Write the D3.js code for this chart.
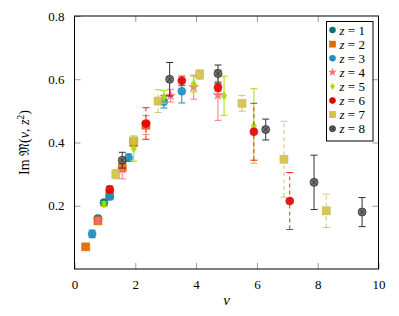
<!DOCTYPE html>
<html>
<head>
<meta charset="utf-8">
<script src="https://cdn.jsdelivr.net/npm/d3@7"></script>
<style>
  body { margin: 0; background: #fff; }
</style>
</head>
<body>
<svg id="chart" width="399" height="316"></svg>
<script>
// nu, value, error for each z
const z1Nu = [0.77, 0.97];
const z1Im = [0.160, 0.210];
const z1Err = [0.007, 0.007];

const z2Nu = [0.37, 0.77, 1.16, 1.57, 1.95, 2.35];
const z2Im = [0.070, 0.152, 0.236, 0.321, 0.400, 0.455];
const z2Err = [0.005, 0.006, 0.008, 0.010, 0.010, 0.010];

const z3Nu = [0.58, 1.16, 1.78, 2.94, 3.53];
const z3Im = [0.111, 0.229, 0.352, 0.529, 0.562];
const z3Err = [0.012, 0.010, 0.012, 0.020, 0.037];

const z4Nu = [0.77, 1.57, 2.35, 3.16, 3.92, 4.72];
const z4Im = [0.155, 0.315, 0.455, 0.548, 0.575, 0.550];
const z4Err = [0.008, 0.030, 0.030, 0.020, 0.038, 0.080];

const z5Nu = [0.97, 1.95, 2.94, 3.92, 4.92, 5.90];
const z5Im = [0.205, 0.381, 0.544, 0.585, 0.548, 0.452];
const z5Err = [0.008, 0.040, 0.020, 0.025, 0.062, 0.118];

const z6Nu = [1.16, 2.35, 3.53, 4.72, 5.90, 7.08];
const z6Im = [0.252, 0.460, 0.595, 0.574, 0.434, 0.215];
const z6Err = [0.010, 0.050, 0.015, 0.012, 0.090, 0.090];

const z7Nu = [1.36, 1.95, 2.75, 4.12, 5.51, 6.89, 8.28];
const z7Im = [0.300, 0.405, 0.531, 0.615, 0.524, 0.347, 0.184];
const z7Err = [0.015, 0.010, 0.036, 0.015, 0.025, 0.120, 0.053];

const z8Nu = [1.57, 3.13, 4.72, 6.29, 7.88, 9.46];
const z8Im = [0.344, 0.600, 0.618, 0.441, 0.274, 0.180];
const z8Err = [0.025, 0.053, 0.027, 0.033, 0.086, 0.046];

const xTicks = [0, 2, 4, 6, 8, 10];
const yTicks = [0.2, 0.4, 0.6, 0.8];

const series = [
  {nu: z1Nu, im: z1Im, err: z1Err, shape: "circle", fill: "#00747a", stroke: "#00666b", errColor: "#00747a", dash: null},
  {nu: z2Nu, im: z2Im, err: z2Err, shape: "square", fill: "#e06c00", stroke: "#d06000", errColor: "#e06c00", dash: null},
  {nu: z3Nu, im: z3Im, err: z3Err, shape: "circle", fill: "#1a8fc0", stroke: "#1780b0", errColor: "#1a8fc0", dash: null},
  {nu: z4Nu, im: z4Im, err: z4Err, shape: "star", fill: "#ff6e6e", stroke: "#ff5a5a", errColor: "#ff7b7b", dash: null},
  {nu: z5Nu, im: z5Im, err: z5Err, shape: "diamond", fill: "#a6e000", stroke: "#9ad000", errColor: "#a6e000", dash: null},
  {nu: z6Nu, im: z6Im, err: z6Err, shape: "circle", fill: "#e60000", stroke: "#d00000", errColor: "#ff2020", dash: "4,3"},
  {nu: z7Nu, im: z7Im, err: z7Err, shape: "square", fill: "#d4c244", stroke: "#c2b23e", errColor: "#d2c27a", dash: "4,3"},
  {nu: z8Nu, im: z8Im, err: z8Err, shape: "otimes", fill: "#666", stroke: "#222", errColor: "#333", dash: null}
];

const serif = "'Liberation Serif', 'Times New Roman', serif";
const svg = d3.select("#chart").style("font-family", serif);
const mLeft = 74.5, mRight = 378.5, mTop = 16, mBottom = 269;

const x = d3.scaleLinear().domain([0, 10]).range([mLeft, mRight]);
const y = d3.scaleLinear().domain([0, 0.8]).range([mBottom, mTop]);

// ticks inside on all four sides
const tickLen = 6;
svg.append("g")
  .attr("transform", "translate(0," + mBottom + ")")
  .call(d3.axisBottom(x).tickValues(xTicks).tickSizeInner(-tickLen).tickSizeOuter(0).tickPadding(5 + tickLen))
  .attr("font-family", serif)
  .call(g => g.select(".domain").remove())
  .call(g => g.selectAll("line").attr("stroke", "#9a9a9a"))
  .call(g => g.selectAll("text").attr("font-size", 13).attr("fill", "#000"));
svg.append("g")
  .attr("transform", "translate(0," + mTop + ")")
  .call(d3.axisTop(x).tickValues(xTicks.slice(1, -1)).tickSizeInner(-tickLen).tickSizeOuter(0).tickFormat(""))
  .call(g => g.select(".domain").remove())
  .call(g => g.selectAll("line").attr("stroke", "#9a9a9a"));
svg.append("g")
  .attr("transform", "translate(" + mLeft + ",0)")
  .call(d3.axisLeft(y).tickValues(yTicks).tickSizeInner(-tickLen).tickSizeOuter(0).tickPadding(4 + tickLen).tickFormat(d3.format(".1f")))
  .attr("font-family", serif)
  .call(g => g.select(".domain").remove())
  .call(g => g.selectAll("line").attr("stroke", "#9a9a9a"))
  .call(g => g.selectAll("text").attr("font-size", 13).attr("fill", "#000"));
svg.append("g")
  .attr("transform", "translate(" + mRight + ",0)")
  .call(d3.axisRight(y).tickValues(yTicks.slice(0, -1)).tickSizeInner(-tickLen).tickSizeOuter(0).tickFormat(""))
  .call(g => g.select(".domain").remove())
  .call(g => g.selectAll("line").attr("stroke", "#9a9a9a"));

svg.append("rect")
  .attr("x", mLeft).attr("y", mTop)
  .attr("width", mRight - mLeft).attr("height", mBottom - mTop)
  .attr("fill", "none").attr("stroke", "#000").attr("stroke-width", 1);

// axis labels
svg.append("text")
  .attr("x", (mLeft + mRight) / 2).attr("y", 305)
  .attr("text-anchor", "middle").attr("font-size", 15).attr("font-style", "italic")
  .text("ν");
const yl = svg.append("text")
  .attr("transform", "translate(29," + (mTop + mBottom) / 2 + ") rotate(-90)")
  .attr("text-anchor", "middle").attr("font-size", 14);
yl.append("tspan").text("Im ");
yl.append("tspan").attr("font-family", "'DejaVu Serif', serif").text("𝔐");
yl.append("tspan").text("(");
yl.append("tspan").attr("font-style", "italic").text("ν");
yl.append("tspan").text(", ");
yl.append("tspan").attr("font-style", "italic").text("z");
yl.append("tspan").attr("font-size", 10).attr("dy", -5).text("2");
yl.append("tspan").attr("dy", 5).text(")");

function drawMarker(g, s, scale) {
  const k = scale || 1;
  if (s.shape === "circle") {
    g.append("circle").attr("r", 4 * k).attr("fill", s.fill).attr("stroke", s.stroke).attr("stroke-width", 0.6);
  } else if (s.shape === "square") {
    g.append("rect").attr("x", -4 * k).attr("y", -4 * k).attr("width", 8 * k).attr("height", 8 * k)
      .attr("fill", s.fill).attr("stroke", s.stroke).attr("stroke-width", 0.6);
  } else if (s.shape === "star") {
    g.append("path").attr("d", d3.symbol(d3.symbolStar, 28 * k * k)()).attr("fill", s.fill).attr("stroke", s.stroke).attr("stroke-width", 0.5);
  } else if (s.shape === "diamond") {
    g.append("path").attr("d", "M0," + (-4 * k) + "L" + (2.8 * k) + ",0L0," + (4 * k) + "L" + (-2.8 * k) + ",0Z")
      .attr("fill", s.fill).attr("stroke", s.stroke).attr("stroke-width", 0.5);
  } else {
    const r = 4 * k;
    g.append("circle").attr("r", r).attr("fill", s.fill).attr("stroke", s.stroke).attr("stroke-width", 0.8);
    const d = r * 0.7;
    g.append("path").attr("d", "M" + -d + "," + -d + "L" + d + "," + d + "M" + d + "," + -d + "L" + -d + "," + d)
      .attr("stroke", s.stroke).attr("stroke-width", 0.8);
  }
}

const plot = svg.append("g");
series.forEach(s => {
  const pts = s.nu.map((v, i) => ({nu: v, im: s.im[i], err: s.err[i]}));
  const g = plot.append("g");
  const eb = g.selectAll(".eb").data(pts).enter().append("g").attr("stroke", s.errColor).attr("stroke-width", 1);
  eb.append("line")
    .attr("x1", d => x(d.nu)).attr("x2", d => x(d.nu))
    .attr("y1", d => y(d.im - d.err)).attr("y2", d => y(d.im + d.err))
    .attr("stroke-dasharray", s.dash);
  eb.append("line")
    .attr("x1", d => x(d.nu) - 3.5).attr("x2", d => x(d.nu) + 3.5)
    .attr("y1", d => y(d.im - d.err)).attr("y2", d => y(d.im - d.err));
  eb.append("line")
    .attr("x1", d => x(d.nu) - 3.5).attr("x2", d => x(d.nu) + 3.5)
    .attr("y1", d => y(d.im + d.err)).attr("y2", d => y(d.im + d.err));
  pts.forEach(d => {
    const m = g.append("g").attr("transform", "translate(" + x(d.nu) + "," + y(d.im) + ")").attr("opacity", 0.9);
    drawMarker(m, s);
  });
});

// legend
const lg = svg.append("g").attr("transform", "translate(326.5,21.5)");
lg.append("rect").attr("width", 46.5).attr("height", 119.5).attr("fill", "#fff").attr("stroke", "#000").attr("stroke-width", 1);
series.forEach((s, i) => {
  const row = lg.append("g").attr("transform", "translate(6," + (8.5 + i * 14.1) + ")");
  drawMarker(row.append("g"), s, 0.75);
  const t = row.append("text").attr("x", 7).attr("y", 4.5).attr("font-size", 13);
  t.append("tspan").attr("font-style", "italic").text("z");
  t.append("tspan").text(" = " + (i + 1));
});
</script>
</body>
</html>
